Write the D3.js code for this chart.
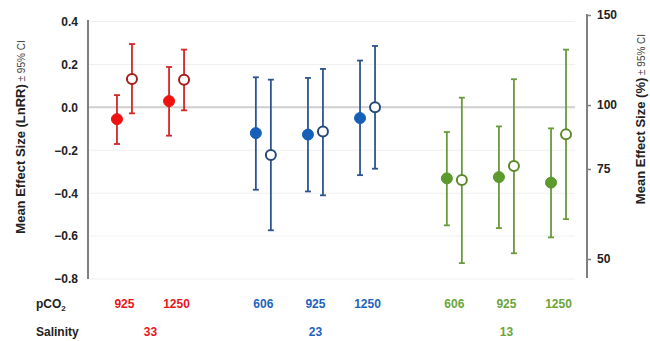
<!DOCTYPE html>
<html><head><meta charset="utf-8">
<script src="https://cdn.jsdelivr.net/npm/d3@7"></script>
<style>body{margin:0;background:#fff}svg{display:block;font-family:"Liberation Sans",Arial,sans-serif}</style>
</head><body><svg id="c" width="650" height="341"></svg>
<script>
// ---- data ----
const pco2 = ["925","1250","606","925","1250","606","925","1250"];
const salinity = ["33","33","23","23","23","13","13","13"];
const salinityGroups = ["33","23","13"];
const filledMean = [-0.055, 0.029, -0.120, -0.127, -0.050, -0.331, -0.325, -0.351];
const filledLo   = [-0.171, -0.132, -0.384, -0.392, -0.316, -0.550, -0.563, -0.606];
const filledHi   = [ 0.057, 0.188, 0.140, 0.137, 0.218, -0.115, -0.089, -0.098];
const openMean   = [ 0.132, 0.129, -0.222, -0.113, 0.000, -0.339, -0.273, -0.126];
const openLo     = [-0.028, -0.014, -0.573, -0.410, -0.286, -0.726, -0.680, -0.521];
const openHi     = [ 0.295, 0.269, 0.129, 0.179, 0.286, 0.045, 0.131, 0.269];
const leftTicks = [0.4, 0.2, 0.0, -0.2, -0.4, -0.6, -0.8];
const rightTicks = [50, 75, 100, 150];

// ---- styles ----
const groupColors = {
  "33": {fill:"#f01010", bar:"#d42626", open:"#a81c1c", text:"#e8161b"},
  "23": {fill:"#155fb8", bar:"#2e5490", open:"#27487c", text:"#1d64b8"},
  "13": {fill:"#5d9a2e", bar:"#6a9a3c", open:"#5a8a2a", text:"#6aa53a"}
};

const svg = d3.select("#c");
// slot units: one per category, extra gap between salinity groups
const slot = pco2.map((d,i)=> i + salinityGroups.indexOf(salinity[i]) * (2/3));
const x = d3.scaleLinear().domain([-0.7, 8.88]).range([88, 587]);
const y = d3.scaleLinear().domain([-0.8, 0.4]).range([279, 21.5]);
const yR = d3.scaleLog().domain([50, 150]).range([259, 15]);
const off = 7.5;

// gridlines
svg.append("g").selectAll("line").data(leftTicks).join("line")
  .attr("x1", 88).attr("x2", 575)
  .attr("y1", d=>y(d)).attr("y2", d=>y(d))
  .attr("stroke", d=> d===0 ? "#cfcfcf" : "#efefef")
  .attr("stroke-width", d=> d===0 ? 2 : 1);

// left axis
const gL = svg.append("g").attr("transform","translate(88,0)")
  .call(d3.axisLeft(y).tickValues(leftTicks).tickSize(0).tickPadding(10).tickFormat(d3.format(".1f")));
gL.select(".domain").remove();
gL.selectAll("text").attr("font-size",12).attr("font-weight","bold").attr("fill","#222")
  .attr("font-family","'Liberation Sans',Arial,sans-serif");
svg.append("line").attr("x1",88).attr("x2",88).attr("y1",20).attr("y2",279)
  .attr("stroke","#808080").attr("stroke-width",2);

// right axis
const gR = svg.append("g").attr("transform","translate(587,0)")
  .call(d3.axisRight(yR).tickValues(rightTicks).tickSize(4).tickPadding(6).tickFormat(d3.format("d")));
gR.select(".domain").remove();
gR.selectAll("line").attr("stroke","#808080").attr("stroke-width",1.5);
gR.selectAll("text").attr("font-size",12).attr("font-weight","bold").attr("fill","#222")
  .attr("font-family","'Liberation Sans',Arial,sans-serif");
svg.append("line").attr("x1",587).attr("x2",587).attr("y1",14).attr("y2",278)
  .attr("stroke","#808080").attr("stroke-width",2);

// error bars + points
function series(mean, lo, hi, dx, isOpen){
  const g = svg.append("g");
  const data = mean.map((m,i)=>({m, lo:lo[i], hi:hi[i], cx:x(slot[i])+dx, c:groupColors[salinity[i]]}));
  g.selectAll(".v").data(data).join("line")
    .attr("x1",d=>d.cx).attr("x2",d=>d.cx).attr("y1",d=>y(d.lo)).attr("y2",d=>y(d.hi))
    .attr("stroke",d=>d.c.bar).attr("stroke-width",1.8);
  ["lo","hi"].forEach(k=>{
    g.selectAll(".c"+k).data(data).join("line")
      .attr("x1",d=>d.cx-3).attr("x2",d=>d.cx+3).attr("y1",d=>y(d[k])).attr("y2",d=>y(d[k]))
      .attr("stroke",d=>d.c.bar).attr("stroke-width",1.8);
  });
  g.selectAll("circle").data(data).join("circle")
    .attr("cx",d=>d.cx).attr("cy",d=>y(d.m)).attr("r", isOpen?5:5.5)
    .attr("fill",d=> isOpen ? "#fff" : d.c.fill)
    .attr("stroke",d=> isOpen ? d.c.open : d.c.fill)
    .attr("stroke-width", isOpen?2:1);
}
series(filledMean, filledLo, filledHi, -off, false);
series(openMean, openLo, openHi, off, true);

// category labels
svg.append("g").selectAll("text").data(pco2).join("text")
  .attr("x",(d,i)=>x(slot[i])).attr("y",308).attr("text-anchor","middle")
  .attr("font-size",12).attr("font-weight","bold")
  .attr("fill",(d,i)=>groupColors[salinity[i]].text).text(d=>d);
svg.append("g").selectAll("text").data(salinityGroups).join("text")
  .attr("x",g=>d3.mean(slot.filter((s,i)=>salinity[i]===g).map(s=>x(s))))
  .attr("y",336).attr("text-anchor","middle")
  .attr("font-size",12).attr("font-weight","bold")
  .attr("fill",g=>groupColors[g].text).text(g=>g);

const pl = svg.append("text").attr("x",36).attr("y",308).attr("font-size",12).attr("font-weight","bold").attr("fill","#222");
pl.append("tspan").text("pCO");
pl.append("tspan").attr("font-size",8).attr("dy",3).text("2");
svg.append("text").attr("x",36).attr("y",336).attr("font-size",12).attr("font-weight","bold").attr("fill","#222").text("Salinity");

// axis titles
function title(tx, ty, main){
  const t = svg.append("text").attr("transform",`translate(${tx},${ty}) rotate(-90)`)
    .attr("text-anchor","middle").attr("fill","#222");
  t.append("tspan").attr("font-size",13).attr("font-weight","bold").text(main);
  t.append("tspan").attr("font-size",10).attr("fill","#444").text(" ± 95% CI");
}
title(25, 137, "Mean Effect Size (LnRR)");
title(645, 119, "Mean Effect Size (%)");
</script></body></html>
